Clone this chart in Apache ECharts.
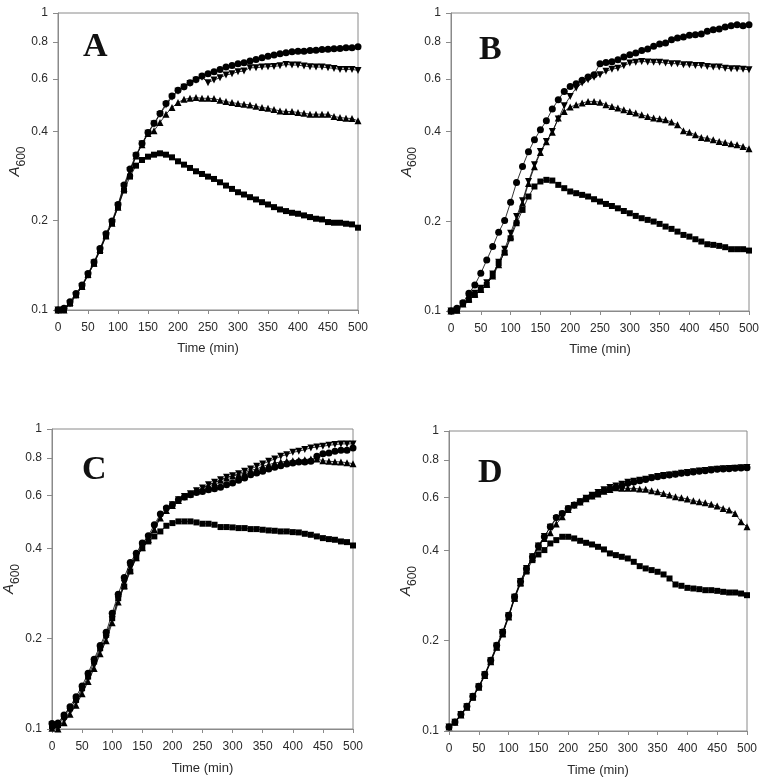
<!DOCTYPE html>
<html><head><meta charset="utf-8">
<script src="https://cdn.jsdelivr.net/npm/echarts@6/dist/echarts.min.js"></script>
<style>html,body{margin:0;padding:0;background:#fff}#c{width:764px;height:784px}</style>
</head><body><div id="c"></div>
<script>
const time = [0,10,20,30,40,50,60,70,80,90,100,110,120,130,140,150,160,170,180,190,200,210,220,230,240,250,260,270,280,290,300,310,320,330,340,350,360,370,380,390,400,410,420,430,440,450,460,470,480,490,500];
const yTicks = [0.1,0.2,0.4,0.6,0.8,1];
const xTicks = [0,50,100,150,200,250,300,350,400,450,500];
const panelLabels = ['A','B','C','D'];

// Panel A
const A_circle = [.1,.1013,.1066,.1137,.1213,.1327,.1452,.161,.1807,.1993,.2266,.2638,.2985,.3325,.3639,.3961,.4257,.4587,.4955,.5257,.5493,.5649,.5826,.5977,.6133,.6245,.6342,.6458,.6576,.6661,.6747,.6799,.6887,.6977,.7067,.7158,.7214,.7289,.7345,.7402,.7441,.7441,.7479,.7498,.7537,.7556,.7576,.7596,.7635,.7635,.7693];
const A_invTri = [.1,.1,.105,.112,.12,.131,.144,.159,.178,.197,.224,.26,.295,.33,.362,.394,.423,.455,.49,.52,.545,.562,.579,.594,.608,.5826,.5947,.6056,.6182,.6245,.6342,.6375,.6541,.6541,.6576,.6593,.661,.6644,.6713,.6678,.6678,.6627,.6593,.6576,.6576,.6541,.6508,.6458,.6458,.6458,.6408];
const A_tri = [.1,.1,.106,.113,.12,.132,.144,.16,.178,.196,.222,.257,.29,.33,.36,.393,.4012,.4279,.4563,.4804,.4993,.5122,.5162,.5189,.5162,.5162,.5149,.5083,.5032,.4993,.4955,.4929,.4904,.4853,.4804,.4779,.4731,.4682,.4658,.4658,.4622,.4598,.4563,.4563,.4563,.4563,.4481,.4446,.4424,.4412,.4334];
const A_square = [.1,.1,.105,.112,.12,.131,.143,.158,.177,.196,.222,.2525,.2813,.3062,.3199,.3283,.3334,.3369,.3334,.3266,.3167,.3086,.3008,.2931,.2871,.2813,.2762,.2692,.2624,.2557,.2492,.2448,.2398,.2356,.2307,.2266,.222,.218,.2153,.2125,.2109,.2082,.2055,.2029,.2018,.1977,.1967,.1967,.1952,.1942,.1893];

// Panel B
const B_circle = [.1,.1021,.1066,.1146,.1223,.1338,.1483,.1645,.1838,.2011,.2318,.2699,.3054,.3421,.3754,.4056,.4348,.4759,.5116,.5457,.5672,.5791,.5942,.6097,.6208,.6758,.6828,.6864,.697,.7116,.7244,.7338,.7491,.7568,.7727,.7868,.7929,.8136,.8241,.8306,.8414,.8458,.8502,.8679,.879,.8837,.8974,.9067,.9138,.9067,.9138];
const B_invTri = [.1,.1005,.1055,.1103,.1147,.1192,.1245,.1331,.1457,.1612,.1824,.2074,.2342,.272,.3094,.343,.3706,.4004,.4406,.488,.525,.56,.582,.597,.609,.621,.637,.648,.653,.665,.679,.683,.688,.685,.683,.683,.679,.676,.676,.67,.67,.667,.667,.662,.659,.659,.653,.65,.65,.648,.645];
const B_tri = [.1,.1005,.1055,.11,.114,.118,.123,.131,.143,.158,.178,.202,.23,.268,.305,.34,.37,.398,.444,.4675,.4833,.492,.4985,.505,.505,.502,.492,.486,.48,.4735,.4675,.4614,.4555,.4497,.444,.4417,.438,.4305,.4217,.4025,.398,.39,.382,.38,.3754,.3706,.3677,.364,.361,.3566,.35];
const B_square = [.1,.1005,.1056,.1089,.1132,.1177,.1223,.1321,.1446,.157,.1754,.197,.2184,.2422,.2617,.272,.2755,.274,.265,.2583,.2518,.2485,.2453,.2422,.2372,.2329,.2287,.2251,.2211,.2166,.2128,.2085,.2048,.2022,.1996,.196,.192,.1886,.1847,.18,.1777,.1741,.171,.1675,.1667,.1654,.1637,.1612,.1612,.1612,.1595];

// Panel C
const C_circle = [.1044,.1048,.1114,.1187,.1282,.1392,.1534,.1708,.1897,.2102,.2432,.2815,.3199,.3591,.3857,.4166,.4406,.4796,.5205,.5451,.5593,.5812,.5932,.6039,.6148,.6195,.6275,.6323,.6389,.6521,.6606,.6743,.6865,.7043,.7134,.7226,.7357,.7452,.7548,.7646,.7704,.7764,.7764,.7804,.8109,.8277,.832,.8427,.8492,.8492,.8646];
const C_invTri = [.1031,.1005,.1072,.1143,.1234,.1349,.1476,.1635,.1835,.2007,.2311,.2695,.3063,.3438,.376,.406,.4328,.4673,.5112,.5381,.5593,.5812,.5962,.6085,.6226,.6355,.6521,.6639,.6776,.69,.6989,.7096,.7226,.7357,.7509,.7646,.7804,.7946,.8109,.8214,.8363,.8427,.8536,.8646,.8713,.8758,.8826,.8871,.8918,.8918,.8918];
const C_tri = [.1005,.1,.105,.112,.12,.131,.144,.159,.178,.197,.226,.265,.3,.338,.372,.402,.428,.462,.505,.535,.556,.578,.594,.607,.621,.634,.65,.662,.675,.687,.697,.7043,.7134,.7283,.7357,.7509,.7607,.7704,.7764,.7804,.7844,.7864,.7904,.7946,.7946,.7844,.7804,.7784,.7764,.7724,.7665];
const C_square = [.1023,.1031,.11,.1172,.125,.1367,.1495,.1678,.1859,.206,.2341,.2729,.2985,.335,.3712,.4009,.4219,.4385,.4556,.4758,.4857,.492,.492,.492,.4882,.4833,.4833,.4796,.4711,.4711,.4699,.4674,.4674,.4638,.4638,.4615,.4591,.4579,.4556,.4556,.4532,.4521,.4474,.444,.4385,.4328,.4295,.4273,.4219,.4197,.409];

// Panel D
const D_circle = [.1031,.1072,.1137,.1209,.1305,.141,.1546,.1722,.1931,.214,.2432,.2801,.3158,.3482,.3808,.4133,.444,.4796,.5151,.5313,.5521,.5665,.5812,.5962,.6085,.6195,.6323,.6422,.6486,.6571,.669,.6758,.6828,.6898,.6988,.7043,.7096,.7134,.717,.7226,.7263,.73,.7338,.7375,.7414,.7452,.7471,.749,.7509,.7528,.7549];
const D_invTri = [.1031,.107,.1135,.1205,.13,.1405,.154,.1715,.192,.213,.242,.279,.315,.348,.381,.414,.445,.478,.51,.528,.55,.565,.581,.597,.611,.624,.637,.648,.656,.664,.675,.68,.685,.691,.699,.705,.71,.714,.718,.723,.727,.731,.735,.739,.743,.746,.748,.75,.752,.754,.756];
const D_tri = [.1031,.107,.113,.12,.13,.14,.153,.17,.19,.211,.24,.277,.312,.345,.378,.41,.4385,.4579,.4894,.5178,.5479,.5665,.58,.595,.607,.617,.63,.638,.647,.6438,.6438,.6438,.6405,.6389,.6323,.6275,.6195,.6116,.6039,.5992,.5932,.5856,.5812,.5767,.5694,.5621,.5521,.5451,.5313,.4982,.4796];
const D_square = [.1031,.107,.113,.12,.129,.14,.153,.17,.19,.21,.24,.276,.31,.34,.3712,.3877,.4009,.4219,.4328,.444,.444,.4385,.4306,.424,.4186,.4111,.4029,.3908,.3857,.3808,.376,.3664,.3544,.3482,.3438,.3394,.3325,.3224,.3079,.3048,.3,.2985,.297,.2947,.2947,.2932,.291,.2895,.2895,.2872,.2836];

const panels = [
  {circle:A_circle, invTri:A_invTri, tri:A_tri, square:A_square},
  {circle:B_circle, invTri:B_invTri, tri:B_tri, square:B_square},
  {circle:C_circle, invTri:C_invTri, tri:C_tri, square:C_square},
  {circle:D_circle, invTri:D_invTri, tri:D_tri, square:D_square}
];

const grids = [
  {left:58, top:13, width:300, height:297},
  {left:451, top:13, width:298, height:298},
  {left:52, top:429, width:301, height:300},
  {left:449, top:431, width:298, height:300}
];
const letterPos = [[78,25],[474,28],[77,448],[473,451]];
const yNameGap = [30,32,28,30];
const xNameGap = [32,32,33,33];

const axisColor = '#8a8a8a';
const labelColor = '#2a2a2a';
const font = 'Liberation Sans, Arial, sans-serif';

const option = {
  animation:false,
  backgroundColor:'#fff',
  title: panelLabels.map((t,i)=>({text:t, left:letterPos[i][0], top:letterPos[i][1],
    textStyle:{fontFamily:'Liberation Serif, Times New Roman, serif', fontWeight:'bold', fontSize:34, color:'#111'}})),
  grid: grids.map(g=>Object.assign({show:true, borderColor:axisColor, borderWidth:1, backgroundColor:'transparent'}, g)),
  xAxis: grids.map((g,i)=>({
    gridIndex:i, type:'value', min:0, max:500, interval:50,
    name:'Time (min)', nameLocation:'middle', nameGap:xNameGap[i],
    nameTextStyle:{fontFamily:font, fontSize:13, color:labelColor},
    axisLine:{lineStyle:{color:axisColor, width:1}},
    axisTick:{show:true, inside:false, length:4, lineStyle:{color:axisColor}},
    axisLabel:{fontFamily:font, fontSize:12, color:labelColor, margin:12, customValues:xTicks},
    splitLine:{show:false}
  })),
  yAxis: grids.map((g,i)=>({
    gridIndex:i, type:'log', logBase:10, min:0.1, max:1,
    name:'{a|A}{s|600}', nameLocation:'middle', nameGap:yNameGap[i], nameRotate:90,
    nameTextStyle:{fontFamily:font, color:labelColor,
      rich:{a:{fontFamily:font, fontStyle:'italic', fontSize:15, color:labelColor, verticalAlign:'top', lineHeight:20},
            s:{fontFamily:font, fontSize:12, color:labelColor, verticalAlign:'bottom', lineHeight:20}}},
    axisLine:{lineStyle:{color:axisColor, width:1}},
    axisTick:{show:true, inside:false, length:5, lineStyle:{color:axisColor}, customValues:yTicks},
    axisLabel:{fontFamily:font, fontSize:12, color:labelColor, margin:10, customValues:yTicks,
      formatter:v=>String(Math.round(v*10)/10)},
    splitLine:{show:false}, minorTick:{show:false}
  })),
  series: []
};

const seriesDefs = [
  {key:'square', symbol:'rect', size:6, rotate:0},
  {key:'tri', symbol:'triangle', size:7, rotate:0},
  {key:'invTri', symbol:'triangle', size:7, rotate:180},
  {key:'circle', symbol:'circle', size:7, rotate:0}
];
panels.forEach((p,i)=>{
  seriesDefs.forEach(d=>{
    option.series.push({
      type:'line', xAxisIndex:i, yAxisIndex:i,
      data: time.map((t,k)=>[t, p[d.key][k]]),
      symbol:d.symbol, symbolSize:d.size, symbolRotate:d.rotate, showSymbol:true,
      lineStyle:{color:'#000', width:0.8},
      itemStyle:{color:'#000', borderWidth:0},
      emphasis:{disabled:true}
    });
  });
});

const chart = echarts.init(document.getElementById('c'), null, {renderer:'canvas'});
chart.setOption(option);
</script>
</body></html>
